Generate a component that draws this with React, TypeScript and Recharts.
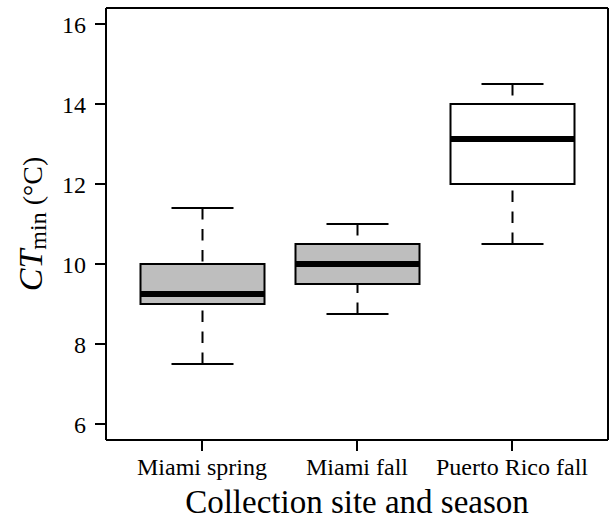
import React from 'react';
import { ComposedChart, Bar, Line, XAxis, YAxis } from 'recharts';

const categories = ['Miami spring', 'Miami fall', 'Puerto Rico fall'];
const whiskerLow = [7.5, 8.75, 10.5];
const quartile1 = [9.0, 9.5, 12.0];
const medians = [9.25, 10.0, 13.125];
const quartile3 = [10.0, 10.5, 14.0];
const whiskerHigh = [11.4, 11.0, 14.5];
const boxFills = ['#BEBEBE', '#BEBEBE', '#FFFFFF'];
const yTicks = [6, 8, 10, 12, 14, 16];
const yDomain = [5.6, 16.4];

const data = categories.map((name, i) => ({
  name,
  range: [whiskerLow[i], whiskerHigh[i]],
  lo: whiskerLow[i],
  q1: quartile1[i],
  med: medians[i],
  q3: quartile3[i],
  hi: whiskerHigh[i],
  fill: boxFills[i],
}));

const FONT = '"Liberation Serif", "Times New Roman", serif';

const BoxShape = (props: any) => {
  const { x, y, width, height, payload } = props;
  const p = payload || props;
  const { lo, hi, q1, med, q3, fill } = p;
  const k = height / (hi - lo);
  const Y = (v: number) => y + (hi - v) * k;
  const cx = x + width / 2;
  const capHalf = width / 4;
  const dash = '11.5 9.5';
  return (
    <g>
      <line x1={cx} x2={cx} y1={Y(hi)} y2={Y(q3)} stroke="#000" strokeWidth={2} strokeDasharray={dash} />
      <line x1={cx} x2={cx} y1={Y(lo)} y2={Y(q1)} stroke="#000" strokeWidth={2} strokeDasharray={dash} />
      <line x1={cx - capHalf} x2={cx + capHalf} y1={Y(hi)} y2={Y(hi)} stroke="#000" strokeWidth={2} />
      <line x1={cx - capHalf} x2={cx + capHalf} y1={Y(lo)} y2={Y(lo)} stroke="#000" strokeWidth={2} />
      <rect x={x} y={Y(q3)} width={width} height={Y(q1) - Y(q3)} fill={fill} stroke="#000" strokeWidth={2} />
      <line x1={x} x2={x + width} y1={Y(med)} y2={Y(med)} stroke="#000" strokeWidth={6} />
    </g>
  );
};

const YTitle = (props: any) => {
  const vb = props.viewBox || { y: 8, height: 432 };
  const cy = vb.y + vb.height / 2;
  return (
    <text
      transform={`translate(42, ${cy}) rotate(-90)`}
      textAnchor="middle"
      fontFamily={FONT}
      fill="#000"
      fontSize={34}
    >
      <tspan fontStyle="italic">CT</tspan>
      <tspan fontSize={24} dy={4}>min</tspan>
      <tspan fontSize={28} dy={-4}>{'\u00A0(°C)'}</tspan>
    </text>
  );
};

const XTitle = (props: any) => {
  const vb = props.viewBox || { x: 106, width: 502 };
  const cx = vb.x + vb.width / 2;
  return (
    <text x={cx} y={513} textAnchor="middle" fontFamily={FONT} fontSize={33} fill="#000">
      Collection site and season
    </text>
  );
};

const axisLine = { stroke: '#000', strokeWidth: 2 };
const tickStyle = { fill: '#000', fontSize: 24, fontFamily: FONT };

export default function App() {
  return (
    <div style={{ position: 'absolute', left: 0, top: 0, width: 611, height: 520, background: '#fff' }}>
      <ComposedChart
        width={611}
        height={520}
        data={data}
        margin={{ top: 7, right: 2, bottom: 0, left: 0 }}
        barSize={124}
      >
        <XAxis
          dataKey="name"
          type="category"
          height={80}
          padding={{ left: 18.5, right: 18.5 }}
          axisLine={axisLine}
          tickLine={axisLine}
          tickSize={11}
          tickMargin={7}
          tick={tickStyle}
          interval={0}
          label={<XTitle />}
        />
        <XAxis
          xAxisId="top"
          dataKey="name"
          type="category"
          orientation="top"
          height={1}
          padding={{ left: 18.5, right: 18.5 }}
          axisLine={axisLine}
          tickLine={false}
          tick={false}
        />
        <YAxis
          type="number"
          domain={yDomain}
          ticks={yTicks}
          allowDataOverflow
          width={106}
          axisLine={axisLine}
          tickLine={axisLine}
          tickSize={11}
          tickMargin={9}
          tick={tickStyle}
          label={<YTitle />}
        />
        <YAxis
          yAxisId="right"
          type="number"
          orientation="right"
          domain={yDomain}
          allowDataOverflow
          width={1}
          axisLine={axisLine}
          tickLine={false}
          tick={false}
        />
        <Bar dataKey="range" shape={<BoxShape />} isAnimationActive={false} />
        <Line
          xAxisId="top"
          yAxisId="right"
          dataKey="hi"
          stroke="none"
          dot={false}
          activeDot={false}
          legendType="none"
          isAnimationActive={false}
        />
      </ComposedChart>
    </div>
  );
}
